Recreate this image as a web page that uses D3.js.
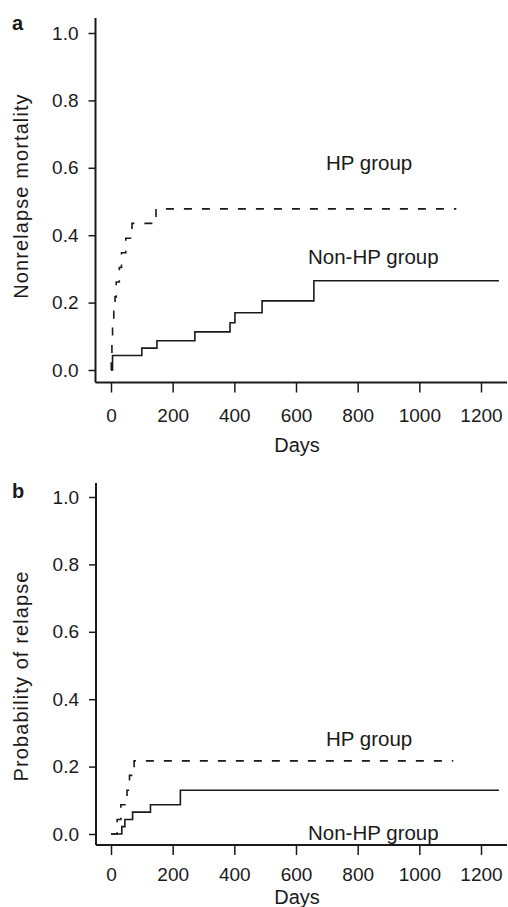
<!DOCTYPE html>
<html>
<head>
<meta charset="utf-8">
<script src="https://cdn.jsdelivr.net/npm/d3@7"></script>
<style>
  html, body { margin: 0; padding: 0; background: #fff; }
  svg { display: block; }
  text { font-family: "Liberation Sans", Arial, Helvetica, sans-serif; fill: #1a1a1a; }
</style>
</head>
<body>
<svg id="chart" width="508" height="907"></svg>
<script>
// Cumulative incidence step curves (days since transplant vs probability)
const dayTicks = [0, 200, 400, 600, 800, 1000, 1200];
const probTicks = [0, 0.2, 0.4, 0.6, 0.8, 1.0];

// Panel a: nonrelapse mortality
const nrmHPDays     = [0, 1, 3, 5, 9, 13, 17, 27, 34, 48, 68, 146, 1120];
const nrmHPValues   = [0, 0.043, 0.087, 0.130, 0.174, 0.217, 0.261, 0.304, 0.348, 0.391, 0.435, 0.478, 0.478];
const nrmNonHPDays   = [0, 5, 100, 149, 272, 386, 402, 490, 658, 1258];
const nrmNonHPValues = [0, 0.043, 0.065, 0.087, 0.113, 0.140, 0.170, 0.205, 0.265, 0.265];

// Panel b: probability of relapse
const relHPDays     = [0, 20, 32, 52, 60, 75, 1110];
const relHPValues   = [0, 0.043, 0.087, 0.130, 0.174, 0.217, 0.217];
const relNonHPDays   = [0, 35, 45, 70, 128, 225, 1258];
const relNonHPValues = [0, 0.022, 0.043, 0.065, 0.087, 0.130, 0.130];

const svg = d3.select("#chart");
const ink = "#1a1a1a";

function zip(days, vals) { return days.map((d, i) => ({ day: d, p: vals[i] })); }

function panel(opt) {
  const x = d3.scaleLinear().domain([0, 1200]).range([111, 481]);
  const y = d3.scaleLinear().domain([0, 1]).range([opt.y0, opt.y1]);
  const g = svg.append("g");

  // axis lines (L-shaped frame)
  g.append("line").attr("x1", opt.ax).attr("x2", opt.ax)
    .attr("y1", opt.axTop).attr("y2", opt.axY)
    .attr("stroke", ink).attr("stroke-width", 2);
  g.append("line").attr("x1", opt.ax).attr("x2", 507)
    .attr("y1", opt.axY).attr("y2", opt.axY)
    .attr("stroke", ink).attr("stroke-width", 2);

  // y axis ticks and labels
  const ya = g.append("g").attr("transform", `translate(${opt.ax},0)`)
    .call(d3.axisLeft(y).tickValues(probTicks).tickFormat(d3.format(".1f"))
      .tickSize(7).tickPadding(10));
  ya.select(".domain").remove();
  ya.selectAll(".tick line").attr("stroke", ink).attr("stroke-width", 1.5);
  ya.selectAll(".tick text").attr("font-size", 19).attr("fill", ink)
    .style("font-family", "'Liberation Sans', Arial, sans-serif");

  // x axis ticks and labels
  const xa = g.append("g").attr("transform", `translate(0,${opt.axY})`)
    .call(d3.axisBottom(x).tickValues(dayTicks).tickFormat(d3.format("d"))
      .tickSize(opt.tickLen).tickPadding(opt.tickPad));
  xa.select(".domain").remove();
  xa.selectAll(".tick line").attr("stroke", ink).attr("stroke-width", 1.5);
  xa.selectAll(".tick text").attr("font-size", 19).attr("fill", ink)
    .style("font-family", "'Liberation Sans', Arial, sans-serif");

  // step curves
  const line = d3.line().x(d => x(d.day)).y(d => y(d.p)).curve(d3.curveStepAfter);
  g.append("path").datum(zip(opt.nonHPDays, opt.nonHPValues))
    .attr("d", line).attr("fill", "none").attr("stroke", ink).attr("stroke-width", 1.6);
  g.append("path").datum(zip(opt.hpDays, opt.hpValues))
    .attr("d", line).attr("fill", "none").attr("stroke", ink).attr("stroke-width", 1.6)
    .attr("stroke-dasharray", "8,10");

  // panel letter
  g.append("text").attr("x", 12).attr("y", opt.letterY).text(opt.letter)
    .attr("font-size", 20).attr("font-weight", "bold");

  // axis titles
  g.append("text").attr("transform", `translate(28,${opt.titleY}) rotate(-90)`)
    .attr("text-anchor", "middle").attr("font-size", 20)
    .style("letter-spacing", "1.1px").text(opt.yTitle);
  g.append("text").attr("x", 297).attr("y", opt.daysY).attr("text-anchor", "middle")
    .attr("font-size", 20).text("Days");

  // curve annotations
  g.append("text").attr("x", 326).attr("y", opt.hpLabelY).attr("font-size", 20.5).text("HP group");
  g.append("text").attr("x", 308).attr("y", opt.nonHPLabelY).attr("font-size", 20.5).text("Non-HP group");
}

panel({
  letter: "a", letterY: 30, y0: 370, y1: 33, ax: 95.5, axTop: 18, axY: 382.5,
  tickLen: 10, tickPad: 16, titleY: 196, daysY: 452,
  yTitle: "Nonrelapse mortality",
  hpDays: nrmHPDays, hpValues: nrmHPValues,
  nonHPDays: nrmNonHPDays, nonHPValues: nrmNonHPValues,
  hpLabelY: 170, nonHPLabelY: 264
});

panel({
  letter: "b", letterY: 498, y0: 834, y1: 497, ax: 96, axTop: 483, axY: 845,
  tickLen: 10, tickPad: 13, titleY: 676, daysY: 904,
  yTitle: "Probability of relapse",
  hpDays: relHPDays, hpValues: relHPValues,
  nonHPDays: relNonHPDays, nonHPValues: relNonHPValues,
  hpLabelY: 746, nonHPLabelY: 840
});
</script>
</body>
</html>
